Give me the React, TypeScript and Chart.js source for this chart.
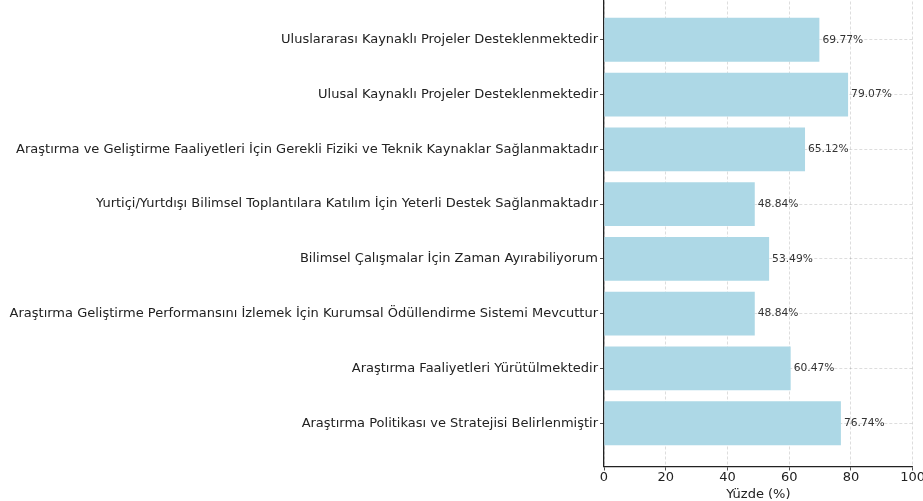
import React, { useEffect, useRef } from "react";
import { Chart, registerables } from "chart.js";

Chart.register(...registerables);

const categories = [
  "Uluslararası Kaynaklı Projeler Desteklenmektedir",
  "Ulusal Kaynaklı Projeler Desteklenmektedir",
  "Araştırma ve Geliştirme Faaliyetleri İçin Gerekli Fiziki ve Teknik Kaynaklar Sağlanmaktadır",
  "Yurtiçi/Yurtdışı Bilimsel Toplantılara Katılım İçin Yeterli Destek Sağlanmaktadır",
  "Bilimsel Çalışmalar İçin Zaman Ayırabiliyorum",
  "Araştırma Geliştirme Performansını İzlemek İçin Kurumsal Ödüllendirme Sistemi Mevcuttur",
  "Araştırma Faaliyetleri Yürütülmektedir",
  "Araştırma Politikası ve Stratejisi Belirlenmiştir",
];
const percentages = [69.77, 79.07, 65.12, 48.84, 53.49, 48.84, 60.47, 76.74];
const xTicks = [0, 20, 40, 60, 80, 100];
const xLabel = "Yüzde (%)";

const FONT = "'DejaVu Sans', sans-serif";

const valueLabels = {
  id: "valueLabels",
  afterDatasetsDraw(chart: any) {
    const ctx = chart.ctx;
    const meta = chart.getDatasetMeta(0);
    ctx.save();
    ctx.font = `10.7px ${FONT}`;
    ctx.fillStyle = "#333333";
    ctx.textAlign = "left";
    ctx.textBaseline = "middle";
    meta.data.forEach((bar: any, i: number) => {
      ctx.fillText(percentages[i].toFixed(2) + "%", bar.x + 3, bar.y);
    });
    ctx.restore();
  },
};

export default function App() {
  const ref = useRef<HTMLCanvasElement | null>(null);
  useEffect(() => {
    if (!ref.current) return;
    const chart = new Chart(ref.current, {
      type: "bar",
      data: {
        datasets: [
          {
            data: percentages.map((v, i) => ({ x: v, y: i })),
            backgroundColor: "#add8e6",
            borderWidth: 0,
            barPercentage: 1,
            categoryPercentage: 0.8,
          },
        ],
      },
      options: {
        indexAxis: "y",
        responsive: false,
        animation: false,
        devicePixelRatio: 1,
        layout: { padding: { left: 0, right: 47.3, top: 26.5, bottom: 0 } },
        plugins: { legend: { display: false }, tooltip: { enabled: false } },
        scales: {
          y: {
            type: "linear",
            reverse: true,
            offset: false,
            min: -0.79,
            max: 7.79,
            afterBuildTicks: (scale: any) => {
              scale.ticks = categories.map((_, i) => ({ value: i }));
            },
            afterFit: (scale: any) => {
              scale.width = 604;
            },
            ticks: {
              callback: (v: any) => categories[v as number],
              color: "#222222",
              font: { family: FONT, size: 13 },
              padding: 2,
              autoSkip: false,
            },
            grid: {
              offset: false,
              color: "rgba(0,0,0,0.17)",
              tickColor: "#222222",
              tickLength: 4,
              tickBorderDash: [],
              lineWidth: 0.8,
            },
            border: { display: true, color: "#222222", width: 1.3, dash: [3, 2] },
          },
          x: {
            type: "linear",
            min: 0,
            max: 100,
            afterBuildTicks: (scale: any) => {
              scale.ticks = xTicks.map((v) => ({ value: v }));
            },
            afterFit: (scale: any) => {
              scale.height = 34.5;
            },
            ticks: {
              color: "#222222",
              font: { family: FONT, size: 13 },
              padding: -1,
              maxRotation: 0,
            },
            grid: {
              color: "rgba(0,0,0,0.17)",
              tickColor: "#222222",
              tickLength: 4,
              tickBorderDash: [],
              lineWidth: 0.8,
            },
            border: { display: true, color: "#222222", width: 1.3, dash: [3, 2] },
            title: {
              display: true,
              text: xLabel,
              color: "#222222",
              font: { family: FONT, size: 13 },
              padding: { top: 0, bottom: -1 },
            },
          },
        },
      },
      plugins: [valueLabels],
    });
    return () => chart.destroy();
  }, []);
  return (
    <div
      style={{
        position: "fixed",
        left: 0,
        top: 0,
        width: 923,
        height: 501,
        overflow: "hidden",
        background: "#ffffff",
      }}
    >
      <canvas
        ref={ref}
        width={960}
        height={531}
        style={{ position: "absolute", left: 0, top: -30, width: 960, height: 531, display: "block" }}
      />
    </div>
  );
}
